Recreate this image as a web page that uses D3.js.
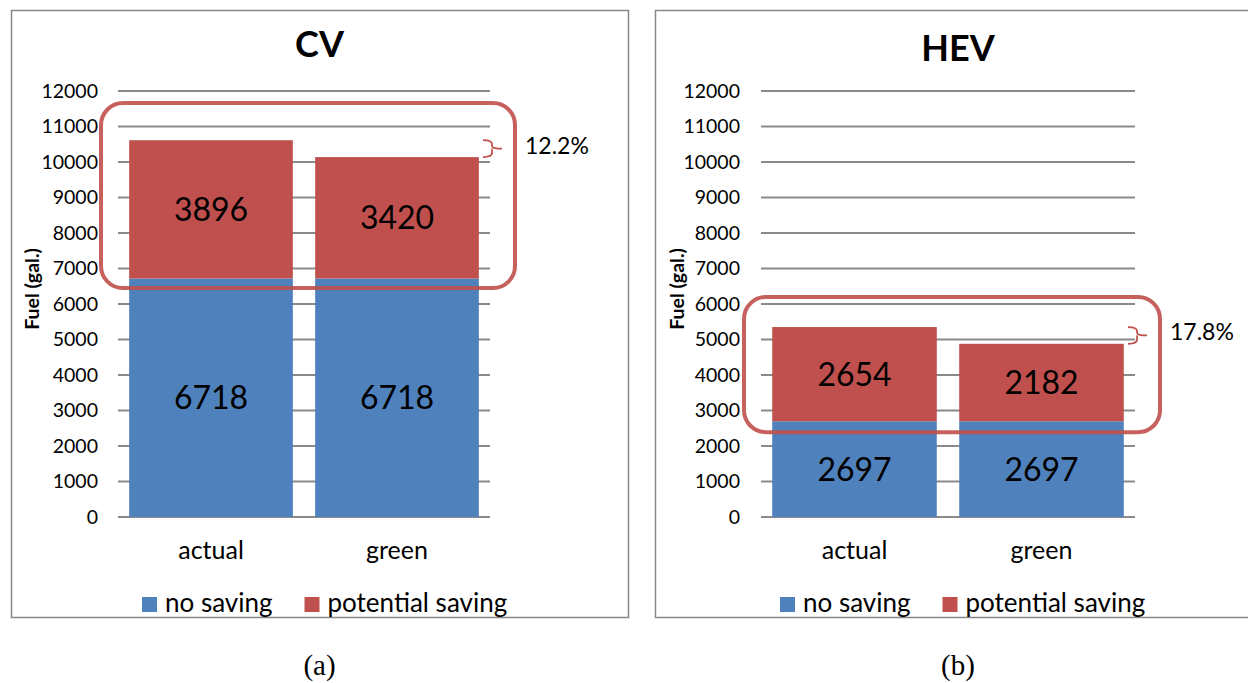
<!DOCTYPE html>
<html><head><meta charset="utf-8">
<script src="https://cdn.jsdelivr.net/npm/d3@7"></script>
<style>body{margin:0;background:#fff}svg{display:block}</style>
</head><body>
<svg id="c" width="1248" height="683"></svg>
<script>
const categories = ["actual", "green"];
const seriesNames = ["no saving", "potential saving"];
const cvNoSaving = [6718, 6718];
const cvPotential = [3896, 3420];
const hevNoSaving = [2697, 2697];
const hevPotential = [2654, 2182];
const yTicks = [0,1000,2000,3000,4000,5000,6000,7000,8000,9000,10000,11000,12000];
const titles = ["CV", "HEV"];
const captions = ["(a)", "(b)"];
const savingPct = ["12.2%", "17.8%"];
const boxRanges = [[6450, 11660], [2390, 6200]];

const colors = ["#4f81bd", "#c0504d"];
const font = "Lato, 'Open Sans', sans-serif";
const svg = d3.select("#c");

const panels = [
  {frame:[11,10,617,607], plot:[118,490], title:titles[0], titleY:44, cap:captions[0], a:cvNoSaving, b:cvPotential, pct:savingPct[0], box:boxRanges[0], tickX:98, yTitleX:32, legX:142},
  {frame:[655,10,606,607], plot:[761,1135], title:titles[1], titleY:48, cap:captions[1], a:hevNoSaving, b:hevPotential, pct:savingPct[1], box:boxRanges[1], tickX:740, yTitleX:677, legX:780}
];

panels.forEach(p => {
  const g = svg.append("g");
  g.append("rect").attr("x", p.frame[0]+0.5).attr("y", p.frame[1]+0.5)
    .attr("width", p.frame[2]).attr("height", p.frame[3])
    .attr("fill", "#fff").attr("stroke", "#878787").attr("stroke-width", 1.5);
  const frameMid = p.frame[0] + p.frame[2] / 2;

  const y = d3.scaleLinear().domain([0, 12000]).range([517, 91]);
  const x = d3.scaleBand().domain(categories).range(p.plot).paddingInner(0.12).paddingOuter(0.06);

  // grid
  g.selectAll(".grid").data(yTicks).enter().append("line")
    .attr("x1", p.plot[0]).attr("x2", p.plot[1])
    .attr("y1", d => y(d)).attr("y2", d => y(d))
    .attr("stroke", "#8a8a8a").attr("stroke-width", 2);

  // y tick labels
  g.selectAll(".yt").data(yTicks).enter().append("text")
    .attr("x", p.tickX).attr("y", d => y(d)).attr("dy", "0.35em")
    .attr("text-anchor", "end").attr("font-family", font).attr("font-size", 19.5)
    .attr("fill", "#000").text(d => d);

  // bars
  const stackData = categories.map((c, i) => ({cat: c, a: p.a[i], b: p.b[i]}));
  const stack = d3.stack().keys(["a", "b"])(stackData);
  stack.forEach((layer, li) => {
    g.selectAll(".bar" + li).data(layer).enter().append("rect")
      .attr("x", d => x(d.data.cat)).attr("width", x.bandwidth())
      .attr("y", d => y(d[1])).attr("height", d => y(d[0]) - y(d[1]))
      .attr("fill", colors[li]);
    g.selectAll(".lab" + li).data(layer).enter().append("text")
      .attr("x", d => x(d.data.cat) + x.bandwidth()/2)
      .attr("y", d => y((d[0] + d[1]) / 2)).attr("dy", "0.36em")
      .attr("text-anchor", "middle").attr("font-family", font).attr("font-size", 32)
      .attr("fill", "#000").text(d => d[1] - d[0]);
  });

  // x labels
  g.selectAll(".xl").data(categories).enter().append("text")
    .attr("x", d => x(d) + x.bandwidth()/2).attr("y", 550).attr("dy", "0.35em")
    .attr("text-anchor", "middle").attr("font-family", font).attr("font-size", 25)
    .text(d => d);

  // title
  g.append("text").attr("x", frameMid).attr("y", p.titleY).attr("dy", "0.35em")
    .attr("text-anchor", "middle").attr("font-family", font).attr("font-weight", "bold")
    .attr("font-size", 36).text(p.title);

  // y axis title
  g.append("text").attr("transform", `translate(${p.yTitleX},${289}) rotate(-90)`)
    .attr("dy", "0.35em").attr("text-anchor", "middle").attr("font-family", font)
    .attr("font-weight", "bold").attr("font-size", 19.5).text("Fuel (gal.)");

  // legend
  let lx = p.legX;
  seriesNames.forEach((n, i) => {
    g.append("rect").attr("x", lx).attr("y", 597).attr("width", 15).attr("height", 15).attr("fill", colors[i]);
    const t = g.append("text").attr("x", lx + 23).attr("y", 603).attr("dy", "0.35em")
      .attr("font-family", font).attr("font-size", 26).text(n);
    lx += 23 + t.node().getComputedTextLength() + 32;
  });

  // highlight box
  g.append("rect").attr("x", p.plot[0] - 17).attr("y", y(p.box[1]))
    .attr("width", p.plot[1] - p.plot[0] + 42).attr("height", y(p.box[0]) - y(p.box[1]))
    .attr("rx", 22).attr("ry", 22).attr("fill", "none")
    .attr("stroke", "#c0504d").attr("stroke-opacity", 0.9).attr("stroke-width", 4);

  // bracket
  const t1 = y(p.a[0] + p.b[0]), t2 = y(p.a[1] + p.b[1]);
  const bx0 = p.plot[1] - 7, bx1 = bx0 + 9, bx2 = bx0 + 19, bm = (t1 + t2) / 2;
  const path = `M${bx0},${t1} Q${bx1},${t1} ${bx1},${t1+4} L${bx1},${bm-3} Q${bx1},${bm} ${bx2},${bm} M${bx1+0.5},${bm} Q${bx1},${bm} ${bx1},${bm+3} L${bx1},${t2-4} Q${bx1},${t2} ${bx0},${t2}`;
  g.append("path").attr("d", path).attr("fill", "none").attr("stroke", "#c0504d").attr("stroke-width", 1.8);
  g.append("text").attr("x", bx2 + 23).attr("y", bm - 3).attr("dy", "0.35em")
    .attr("font-family", font).attr("font-size", 23).text(p.pct);

  // caption
  g.append("text").attr("x", frameMid).attr("y", 665).attr("dy", "0.35em")
    .attr("text-anchor", "middle").attr("font-family", "'Liberation Serif', serif")
    .attr("font-size", 29).text(p.cap);
});
</script>
</body></html>
